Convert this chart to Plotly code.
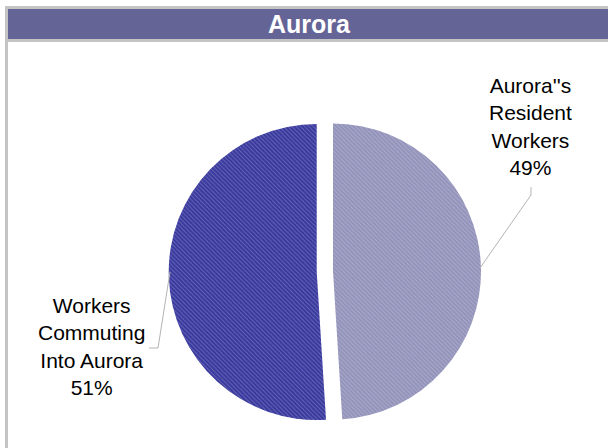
import plotly.graph_objects as go

# ---- data ----
title_text = "Aurora"
slice_labels = ["Aurora''s Resident Workers", "Workers Commuting Into Aurora"]
label_lines = [["Aurora''s", "Resident", "Workers"], ["Workers", "Commuting", "Into Aurora"]]
slice_values = [49, 51]
slice_colors = ["#9292ba", "#38389e"]
slice_pull = [0, 0.11]

W, H = 608, 448


def px(x):
    return x / W


def py(y):
    return 1 - y / H


total = sum(slice_values)
pct = [round(v / total * 100) for v in slice_values]

fig = go.Figure()
fig.add_trace(go.Pie(
    labels=slice_labels,
    values=slice_values,
    sort=False,
    direction="clockwise",
    rotation=0,
    pull=slice_pull,
    textinfo="none",
    hoverinfo="label+percent",
    marker=dict(
        colors=slice_colors,
        line=dict(width=0),
        pattern=dict(shape="\\", fgcolor="#ffffff", fgopacity=0.25, size=3, solidity=0.3, fillmode="overlay"),
    ),
    domain=dict(x=[px(168.7), px(497.3)], y=[py(435.8), py(107.2)]),
    showlegend=False,
))

shapes = []
# outer frame (left and top)
shapes.append(dict(type="rect", xref="paper", yref="paper", x0=px(5), x1=px(8), y0=0, y1=py(6),
                   fillcolor="#c4c4c4", line=dict(width=0), layer="below"))
shapes.append(dict(type="rect", xref="paper", yref="paper", x0=px(5), x1=1, y0=py(9), y1=py(6),
                   fillcolor="#c4c4c4", line=dict(width=0), layer="below"))
# title bar
shapes.append(dict(type="rect", xref="paper", yref="paper", x0=px(8), x1=1, y0=py(39), y1=py(9),
                   fillcolor="#646496", line=dict(width=0), layer="below"))
shapes.append(dict(type="rect", xref="paper", yref="paper", x0=px(8), x1=1, y0=py(42), y1=py(39),
                   fillcolor="#c4c4c4", line=dict(width=0), layer="below"))
# leader lines
lc = "#b4b4b4"
shapes.append(dict(type="path", xref="paper", yref="paper",
                   path=f"M {px(531)} {py(187)} L {px(531)} {py(195)} L {px(480)} {py(268)}",
                   line=dict(color=lc, width=1)))
shapes.append(dict(type="path", xref="paper", yref="paper",
                   path=f"M {px(149)} {py(348)} L {px(158)} {py(348)} L {px(170)} {py(272)}",
                   line=dict(color=lc, width=1)))

label_pos = [(530, 126.5), (91, 346.5)]
annotations = [dict(text=f"<b>{title_text}</b>", xref="paper", yref="paper", x=px(310), y=py(24),
                    showarrow=False, font=dict(family="Liberation Sans, Arial", size=25, color="white"),
                    xanchor="center", yanchor="middle")]
for lines, p, (x, y) in zip(label_lines, pct, label_pos):
    annotations.append(dict(text="<br>".join(lines + [f"{p}%"]), xref="paper", yref="paper",
                            x=px(x), y=py(y), showarrow=False, align="center",
                            xanchor="center", yanchor="middle",
                            font=dict(family="Liberation Sans, Arial", size=21, color="#000000")))

fig.update_layout(
    width=W, height=H,
    margin=dict(l=0, r=0, t=0, b=0),
    paper_bgcolor="white",
    plot_bgcolor="white",
    shapes=shapes,
    annotations=annotations,
)

fig.write_html("out.html", config={"displayModeBar": False},
               post_script="document.body.style.margin='0';document.body.style.overflow='hidden';")
